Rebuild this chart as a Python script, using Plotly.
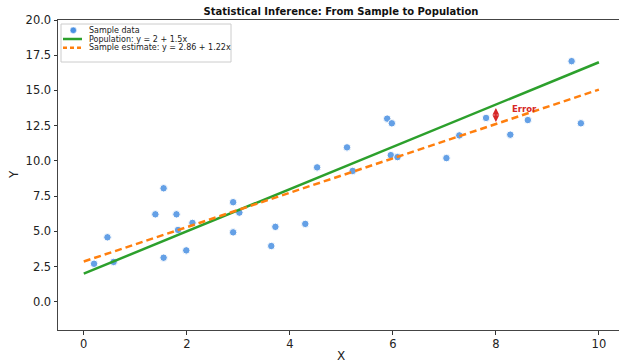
import plotly.graph_objects as go

# ---- data ----
sample_x = [0.20, 0.46, 0.58, 1.39, 1.55, 1.55, 1.80, 1.83, 1.99, 2.11,
            2.90, 2.90, 3.02, 3.64, 3.72, 4.30, 4.53, 5.11, 5.22, 5.89,
            5.98, 5.96, 6.09, 7.04, 7.29, 7.81, 8.28, 8.62, 9.47, 9.65]
sample_y = [2.70, 4.58, 2.83, 6.21, 8.06, 3.13, 6.21, 5.10, 3.65, 5.60,
            7.07, 4.93, 6.33, 3.96, 5.32, 5.53, 9.54, 10.96, 9.29, 13.00,
            12.67, 10.41, 10.27, 10.20, 11.81, 13.05, 11.86, 12.90, 17.08, 12.67]
line_x = [0, 10]
pop_coef = [2.0, 1.5]        # intercept, slope
est_coef = [2.86, 1.22]
error_x = 8
legend_names = ["Sample data", "Population: y = 2 + 1.5x", "Sample estimate: y = 2.86 + 1.22x"]
x_ticks = [0, 2, 4, 6, 8, 10]
y_ticks = [0, 2.5, 5, 7.5, 10, 12.5, 15, 17.5, 20]

pop_y = [pop_coef[0] + pop_coef[1] * v for v in line_x]
est_y = [est_coef[0] + est_coef[1] * v for v in line_x]
err_pop = pop_coef[0] + pop_coef[1] * error_x
err_est = est_coef[0] + est_coef[1] * error_x

BLUE = "#4a90e2"
GREEN = "#2ca02c"
ORANGE = "#ff7f0e"
RED = "#d62728"
FONT = "DejaVu Sans"

W, H = 619, 363
ML, MR, MT, MB = 58, 0, 20, 33
PW, PH = W - ML - MR, H - MT - MB

fig = go.Figure()
fig.add_trace(go.Scatter(x=sample_x, y=sample_y, mode="markers", name=legend_names[0],
                         marker=dict(size=7.5, color=BLUE, opacity=0.85,
                                     line=dict(color="white", width=1))))
fig.add_trace(go.Scatter(x=line_x, y=pop_y, mode="lines", name=legend_names[1],
                         line=dict(color=GREEN, width=2.5)))
fig.add_trace(go.Scatter(x=line_x, y=est_y, mode="lines", name=legend_names[2],
                         line=dict(color=ORANGE, width=2.5, dash="7px,4px")))


def px2paper(px, py):
    return (px - ML) / PW, (H - MB - py) / PH


shapes = []
annotations = []

# error arrow
annotations.append(dict(x=error_x, y=err_est, ax=error_x, ay=err_pop, xref="x", yref="y",
                        axref="x", ayref="y", text="", showarrow=True, arrowhead=2,
                        arrowside="end+start", arrowsize=0.9, arrowwidth=1.5, arrowcolor=RED,
                        standoff=2, startstandoff=2))
annotations.append(dict(x=error_x + 0.27, y=13.7, xref="x", yref="y", text="<b>Error</b>",
                        showarrow=False, xanchor="left", yanchor="middle",
                        font=dict(family=FONT, size=8.5, color=RED)))

# custom compact legend
x0, y0 = px2paper(61, 24)
x1, y1 = px2paper(231, 62)
shapes.append(dict(type="rect", xref="paper", yref="paper", x0=x0, y0=y1, x1=x1, y1=y0,
                   line=dict(color="#cccccc", width=1), fillcolor="rgba(255,255,255,0.85)",
                   layer="above"))
row_py = [30.3, 39.0, 47.7]
# marker entry
cx, cy = px2paper(73.3, row_py[0])
rx, ry = 3.2 / PW, 3.2 / PH
shapes.append(dict(type="circle", xref="paper", yref="paper", x0=cx - rx, x1=cx + rx,
                   y0=cy - ry, y1=cy + ry, fillcolor=BLUE, line=dict(color="white", width=0.5),
                   layer="above"))
# line entries
for i, (col, dash) in enumerate([(GREEN, "solid"), (ORANGE, "4px,3px")]):
    lx0, ly = px2paper(63, row_py[i + 1])
    lx1, _ = px2paper(82, row_py[i + 1])
    shapes.append(dict(type="line", xref="paper", yref="paper", x0=lx0, x1=lx1, y0=ly, y1=ly,
                       line=dict(color=col, width=2.5, dash=dash), layer="above"))
for i, name in enumerate(legend_names):
    tx, ty = px2paper(87.3, row_py[i])
    annotations.append(dict(x=tx, y=ty, xref="paper", yref="paper", text=name,
                            showarrow=False, xanchor="left", yanchor="middle",
                            font=dict(family=FONT, size=8, color="#222222")))

# axis titles
annotations.append(dict(xref="paper", yref="paper", x=(341 - ML) / PW,
                        y=-(356 - (H - MB)) / PH, text="X", showarrow=False,
                        xanchor="center", yanchor="middle",
                        font=dict(family=FONT, size=12, color="#222222")))
annotations.append(dict(xref="paper", yref="paper", x=(14 - ML) / PW, y=0.5, text="Y",
                        showarrow=False, textangle=-90, xanchor="center", yanchor="middle",
                        font=dict(family=FONT, size=12, color="#222222")))

fig.update_layout(
    width=W, height=H,
    margin=dict(l=ML, r=MR, t=MT, b=MB, autoexpand=False),
    paper_bgcolor="white", plot_bgcolor="white",
    showlegend=False,
    font=dict(family=FONT, size=11.5, color="#222222"),
    title=dict(text="<b>Statistical Inference: From Sample to Population</b>",
               x=341 / W, xanchor="center", y=1 - 11 / H, yanchor="middle",
               font=dict(family=FONT, size=10, color="#111111")),
    xaxis=dict(range=[-0.5, 10.39], tickvals=x_ticks, ticks="outside", ticklen=3.5,
               tickcolor="#333333", showgrid=False, zeroline=False, showline=True,
               linecolor="#444444", linewidth=1, mirror=True,
               tickfont=dict(family=FONT, size=11.5, color="#222222")),
    yaxis=dict(range=[-2, 20], tickvals=y_ticks, tickformat=".1f", ticks="outside",
               ticklen=3.5, tickcolor="#333333", showgrid=False, zeroline=False,
               showline=True, linecolor="#444444", linewidth=1, mirror=False,
               tickfont=dict(family=FONT, size=11.5, color="#222222")),
    shapes=shapes,
    annotations=annotations,
)

fig.write_html("out.html")
